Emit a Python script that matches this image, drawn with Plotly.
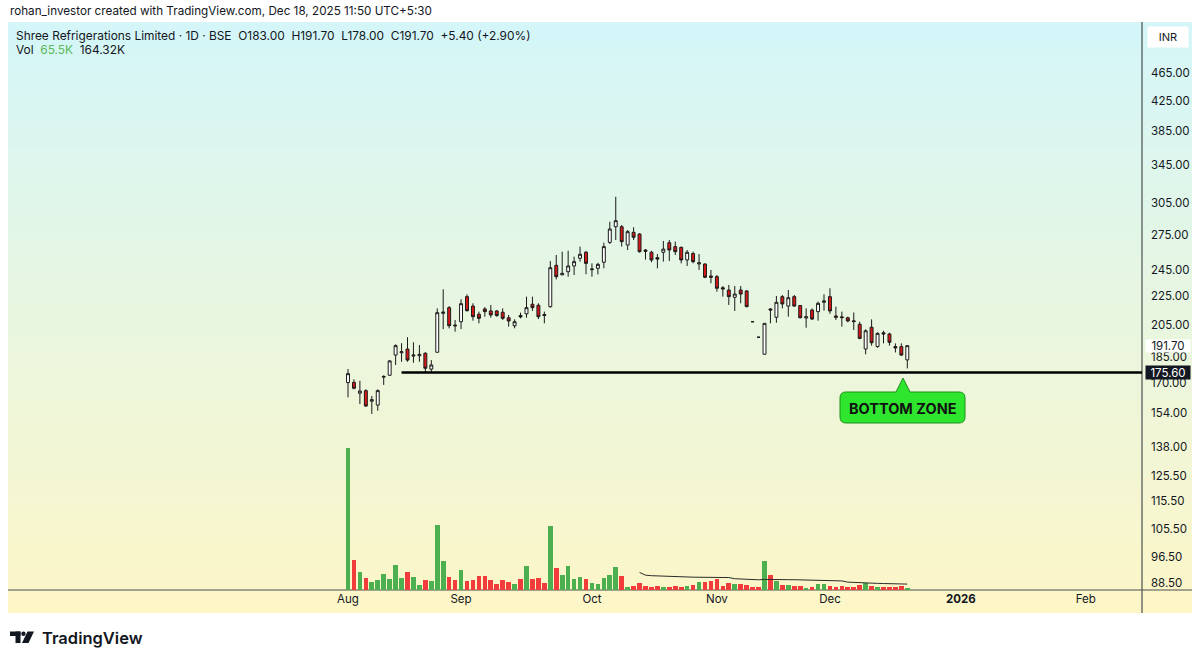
import math
import numpy as np
import pandas as pd
import plotly.graph_objects as go

# ---------------- data ----------------
opens = [170.0, 170.1, 164.2, 165.6, 160.0, 158.0, 173.0, 174.1, 185.9, 187.3,
         189.6, 185.3, 185.5, 187.0, 177.6, 187.6, 212.9, 216.9, 205.0, 207.2,
         224.8, 218.0, 212.3, 216.0, 214.6, 214.6, 213.7, 209.9, 204.5, 211.4,
         212.6, 219.3, 218.6, 212.1, 217.6, 248.9, 241.3, 243.8, 248.4, 254.7,
         259.7, 245.4, 246.5, 251.4, 268.2, 282.2, 282.2, 265.9, 277.1, 275.6,
         261.6, 259.7, 255.2, 259.7, 267.9, 264.5, 263.9, 253.3, 258.6, 250.0,
         250.0, 240.4, 239.9, 231.4, 229.7, 224.3, 229.7, 229.0, 207.2, 197.0,
         186.4, 216.0, 210.2, 224.8, 218.0, 224.8, 218.4, 209.7, 215.2, 214.1,
         220.7, 224.8, 211.1, 210.5, 209.9, 207.8, 205.5, 189.6, 203.5, 191.1,
         199.9, 199.1, 191.1, 191.1, 183.0]
highs = [177.7, 171.8, 171.0, 166.3, 162.7, 166.3, 174.1, 182.9, 192.5, 193.2,
         197.0, 193.8, 192.1, 187.6, 182.9, 216.4, 230.2, 218.0, 208.4, 222.9,
         226.5, 220.0, 214.1, 217.3, 218.8, 215.2, 216.4, 211.8, 208.8, 213.4,
         224.8, 224.8, 220.0, 214.1, 252.4, 257.4, 260.2, 261.0, 256.0, 264.5,
         260.8, 250.5, 251.0, 267.9, 286.8, 311.1, 283.8, 279.2, 281.7, 276.2,
         262.4, 260.9, 258.2, 269.4, 270.3, 268.9, 264.5, 261.6, 260.2, 258.2,
         250.5, 245.2, 241.2, 232.7, 233.5, 232.7, 232.7, 229.7, 207.2, 197.0,
         206.1, 216.4, 225.3, 226.0, 229.7, 226.0, 218.8, 216.4, 216.4, 221.2,
         226.5, 231.0, 217.6, 214.1, 210.6, 213.5, 207.2, 202.1, 208.8, 200.2,
         201.2, 199.9, 193.1, 193.1, 191.7]
lows = [162.0, 166.3, 158.5, 157.2, 153.5, 155.1, 168.7, 173.7, 180.0, 181.9,
        181.9, 181.3, 181.9, 175.5, 175.5, 187.6, 202.3, 202.8, 200.6, 202.3,
        214.1, 207.9, 206.1, 210.6, 209.9, 210.6, 208.4, 203.9, 202.8, 209.5,
        209.9, 214.6, 209.0, 206.1, 216.9, 237.8, 241.1, 239.9, 241.2, 251.9,
        241.8, 239.9, 241.7, 246.5, 266.8, 270.3, 264.5, 261.6, 270.3, 259.4,
        253.6, 251.4, 246.5, 251.9, 252.4, 257.4, 250.5, 248.4, 250.5, 245.2,
        238.7, 234.8, 228.5, 224.8, 218.8, 214.6, 220.0, 217.2, 207.2, 197.0,
        186.4, 206.1, 206.5, 216.4, 210.6, 217.6, 209.5, 203.2, 208.4, 207.9,
        214.8, 212.6, 208.4, 203.9, 206.8, 201.7, 195.7, 186.4, 191.7, 190.4,
        193.1, 191.7, 187.5, 185.3, 178.0]
closes = [175.0, 166.9, 165.4, 157.5, 160.8, 165.6, 173.4, 182.4, 191.7, 187.9,
          182.9, 185.9, 186.3, 178.1, 180.0, 213.4, 213.8, 204.5, 204.5, 219.7,
          214.8, 210.6, 209.5, 214.1, 211.8, 211.4, 209.5, 207.7, 207.2, 210.5,
          216.9, 216.9, 210.6, 211.5, 247.0, 239.9, 242.5, 248.4, 251.9, 258.0,
          250.5, 245.9, 249.7, 264.5, 280.1, 287.8, 268.8, 277.7, 272.7, 260.2,
          260.5, 253.3, 254.0, 262.4, 261.6, 260.2, 253.3, 259.7, 251.9, 251.0,
          239.4, 239.4, 231.0, 230.5, 224.8, 226.7, 226.7, 217.6, 207.2, 197.0,
          206.1, 215.2, 220.7, 219.5, 224.0, 218.0, 209.9, 210.6, 209.0, 220.0,
          221.7, 214.6, 210.2, 210.0, 207.7, 207.3, 196.3, 201.2, 193.5, 199.5,
          199.1, 193.8, 190.3, 185.9, 191.7]
volumes_k = [3925, 831, 507, 324, 230, 277, 435, 313, 701, 324,
             499, 360, 147, 269, 241, 1792, 803, 368, 277, 546,
             249, 277, 388, 379, 277, 166, 277, 222, 175, 305,
             673, 305, 341, 202, 1781, 601, 407, 665, 313, 352,
             305, 202, 166, 332, 407, 645, 388, 91, 119, 186,
             119, 91, 111, 91, 91, 119, 83, 119, 139, 213,
             222, 241, 313, 119, 186, 175, 175, 130, 91, 91,
             812, 416, 249, 130, 130, 102, 102, 64, 83, 158,
             158, 111, 91, 102, 83, 91, 139, 194, 111, 91,
             75, 83, 83, 111, 65.5]

month_tick_index = [0, 19, 41, 62, 81, 103, 124]
month_labels = ["Aug", "Sep", "Oct", "Nov", "Dec", "<b>2026</b>", "Feb"]
price_ticks = [465, 425, 385, 345, 305, 275, 245, 225, 205, 185, 170, 154,
               138, 125.5, 115.5, 105.5, 96.5, 88.5]
support_level = 175.60
support_start_index = 9
last_close = 191.70
ma_length = 50

# ---------------- layout geometry (pixels) ----------------
W, H = 1200, 663
PL, PR, PT, PB = 8, 1142, 25, 590


def fx(px):
    return (px - PL) / (PR - PL)


def fy(py):
    return (PB - py) / (PB - PT)


TXT = "#131722"
FONT = "Inter"

idx = list(range(len(opens)))
vol = [v * 1000 for v in volumes_k]
ma = pd.Series(vol).rolling(ma_length).mean()

ups = []
for i, (o, c) in enumerate(zip(opens, closes)):
    if c > o:
        ups.append(True)
    elif c < o:
        ups.append(False)
    else:
        ups.append(i == 0 or c >= closes[i - 1])
vol_colors = ["#4caf50" if u else "#f23b3b" for u in ups]

fig = go.Figure()

fig.add_trace(go.Bar(
    x=idx, y=vol, marker=dict(color=vol_colors, line=dict(width=0)),
    width=0.78, yaxis="y2", hoverinfo="skip", showlegend=False))

fig.add_trace(go.Scatter(
    x=idx, y=ma, mode="lines", line=dict(color="#2b2b2b", width=1),
    yaxis="y2", hoverinfo="skip", showlegend=False))

fig.add_trace(go.Candlestick(
    x=idx, open=opens, high=highs, low=lows, close=closes,
    increasing=dict(line=dict(color="#1a1a1a", width=1), fillcolor="#ffffff"),
    decreasing=dict(line=dict(color="#1a1a1a", width=1), fillcolor="#d81818"),
    whiskerwidth=0, hoverinfo="skip", showlegend=False))

# x range so that bar 0 sits at px 348 with 5.95 px spacing
x_left = (PL - 348) / 5.95
x_right = (PR - 348) / 5.95
y_low = 205 * math.exp(-(PB - 325) / 307.5)
y_high = 205 * math.exp((325 - PT) / 307.5)

shapes = []
# background gradient
top_rgb = np.array([212, 246, 249])
bot_rgb = np.array([253, 246, 199])
g_top, g_bot, g_left, g_right = 22, 613, 8, 1192
n = 70
for k in range(n):
    t = (k + 0.5) / n
    c = top_rgb * (1 - t) + bot_rgb * t
    y0 = g_top + (g_bot - g_top) * k / n
    y1 = g_top + (g_bot - g_top) * (k + 1) / n + 0.6
    shapes.append(dict(type="rect", xref="paper", yref="paper", layer="below",
                       x0=fx(g_left), x1=fx(g_right), y0=fy(min(y1, g_bot)), y1=fy(y0),
                       fillcolor="rgb(%d,%d,%d)" % tuple(c.round()),
                       line=dict(width=0)))
# axis frame lines
shapes.append(dict(type="line", xref="paper", yref="paper", layer="below",
                   x0=fx(PR), x1=fx(PR), y0=fy(g_bot), y1=fy(g_top),
                   line=dict(color="#4a5050", width=1.2)))
shapes.append(dict(type="line", xref="paper", yref="paper", layer="below",
                   x0=fx(g_left), x1=fx(g_right), y0=fy(PB), y1=fy(PB),
                   line=dict(color="#4a5050", width=1.2)))
# support line
shapes.append(dict(type="line", xref="x", yref="y", layer="above",
                   x0=support_start_index, x1=x_right, y0=support_level, y1=support_level,
                   line=dict(color="#000000", width=2.5)))


# callout "BOTTOM ZONE"
def P(px, py):
    return "%.5f,%.5f" % (fx(px), fy(py))


bx0, bx1, by0, by1, r = 840, 965, 392, 423, 6
tipx, tipy, tb0, tb1 = 903, 378, 896, 910
path = ("M " + P(bx0 + r, by0) + " L " + P(tb0, by0) + " L " + P(tipx, tipy) +
        " L " + P(tb1, by0) + " L " + P(bx1 - r, by0) +
        " Q " + P(bx1, by0) + " " + P(bx1, by0 + r) +
        " L " + P(bx1, by1 - r) + " Q " + P(bx1, by1) + " " + P(bx1 - r, by1) +
        " L " + P(bx0 + r, by1) + " Q " + P(bx0, by1) + " " + P(bx0, by1 - r) +
        " L " + P(bx0, by0 + r) + " Q " + P(bx0, by0) + " " + P(bx0 + r, by0) + " Z")
shapes.append(dict(type="path", xref="paper", yref="paper", layer="above", path=path,
                   fillcolor="#2fe62f", line=dict(color="#1b8f1b", width=1)))

# TradingView logo glyph
logo = "#131722"
shapes.append(dict(type="rect", xref="paper", yref="paper", x0=fx(10), x1=fx(20.5),
                   y0=fy(636), y1=fy(631.5), fillcolor=logo, line=dict(width=0)))
shapes.append(dict(type="rect", xref="paper", yref="paper", x0=fx(15.5), x1=fx(20.5),
                   y0=fy(643), y1=fy(631.5), fillcolor=logo, line=dict(width=0)))
shapes.append(dict(type="circle", xref="paper", yref="paper", x0=fx(21.3), x1=fx(25.6),
                   y0=fy(636), y1=fy(631.5), fillcolor=logo, line=dict(width=0)))
shapes.append(dict(type="path", xref="paper", yref="paper",
                   path="M " + P(27.5, 631.5) + " L " + P(34, 631.5) + " L " + P(28.5, 643) +
                        " L " + P(22, 643) + " Z",
                   fillcolor=logo, line=dict(width=0)))

nb = "\u00a0"
annotations = [
    dict(text="rohan_investor created with TradingView.com, Dec 18, 2025 11:50 UTC+5:30",
         x=fx(8), y=fy(11), xref="paper", yref="paper", xanchor="left", yanchor="middle",
         showarrow=False, font=dict(size=11.7, color=TXT, family=FONT)),
    dict(text="Shree Refrigerations Limited · 1D · BSE" + nb * 2 + "O183.00" + nb * 2 +
              "H191.70" + nb * 2 + "L178.00" + nb * 2 + "C191.70" + nb * 2 + "+5.40 (+2.90%)",
         x=fx(14), y=fy(35), xref="paper", yref="paper", xanchor="left", yanchor="middle",
         showarrow=False, font=dict(size=11.9, color=TXT, family=FONT)),
    dict(text="Vol" + nb * 2 + "<span style='color:#5cb85c'>65.5" + "K</span>" + nb * 2 + "164.32K",
         x=fx(14), y=fy(49), xref="paper", yref="paper", xanchor="left", yanchor="middle",
         showarrow=False, font=dict(size=11.9, color=TXT, family=FONT)),
    dict(text="INR", x=fx(1168), y=fy(37), xref="paper", yref="paper", xanchor="center",
         yanchor="middle", showarrow=False, bgcolor="#ffffff", width=38, height=18,
         font=dict(size=11, color=TXT, family=FONT)),
    dict(text="%.2f" % last_close, x=fx(1168), y=math.log10(last_close), xref="paper",
         yref="y", xanchor="center", yanchor="middle", showarrow=False,
         bgcolor="#ffffff", width=42, height=10, font=dict(size=11.5, color=TXT, family=FONT)),
    dict(text="%.2f" % support_level, x=fx(1168), y=math.log10(support_level), xref="paper",
         yref="y", xanchor="center", yanchor="middle", showarrow=False,
         bgcolor="#131722", width=42, height=11, font=dict(size=11.5, color="#ffffff", family=FONT)),
    dict(text="<b>BOTTOM ZONE</b>", x=fx(902.5), y=fy(408), xref="paper", yref="paper",
         xanchor="center", yanchor="middle", showarrow=False,
         font=dict(size=14.5, color="#111111", family=FONT)),
    dict(text="TradingView", x=fx(40), y=fy(637.5), xref="paper", yref="paper",
         xanchor="left", yanchor="middle", showarrow=False,
         font=dict(size=16.5, color=logo, family=FONT, weight=600)),
]

fig.update_layout(
    width=W, height=H, autosize=False,
    margin=dict(l=PL, r=W - PR, t=PT, b=H - PB),
    paper_bgcolor="#ffffff", plot_bgcolor="rgba(0,0,0,0)",
    showlegend=False, bargap=0, hovermode=False,
    font=dict(family=FONT, color=TXT, size=11.5),
    xaxis=dict(range=[x_left, x_right], tickvals=month_tick_index, ticktext=month_labels,
               showgrid=False, zeroline=False, showline=False, ticks="",
               tickfont=dict(size=11.5, color=TXT), rangeslider=dict(visible=False),
               fixedrange=True),
    yaxis=dict(type="log", side="right", range=[math.log10(y_low), math.log10(y_high)],
               tickvals=price_ticks, ticktext=["%.2f" % v for v in price_ticks],
               showgrid=False, zeroline=False, showline=False, ticks="",
               ticklabelstandoff=8, tickfont=dict(size=11.5, color=TXT)),
    yaxis2=dict(overlaying="y", range=[0, (PB - PT) * 27.7 * 1000], visible=False,
                showgrid=False, zeroline=False),
    shapes=shapes, annotations=annotations,
)

fig.write_html("out.html", config={"displayModeBar": False},
               post_script="document.body.style.margin='0px';"
                           "document.body.style.padding='0px';")
